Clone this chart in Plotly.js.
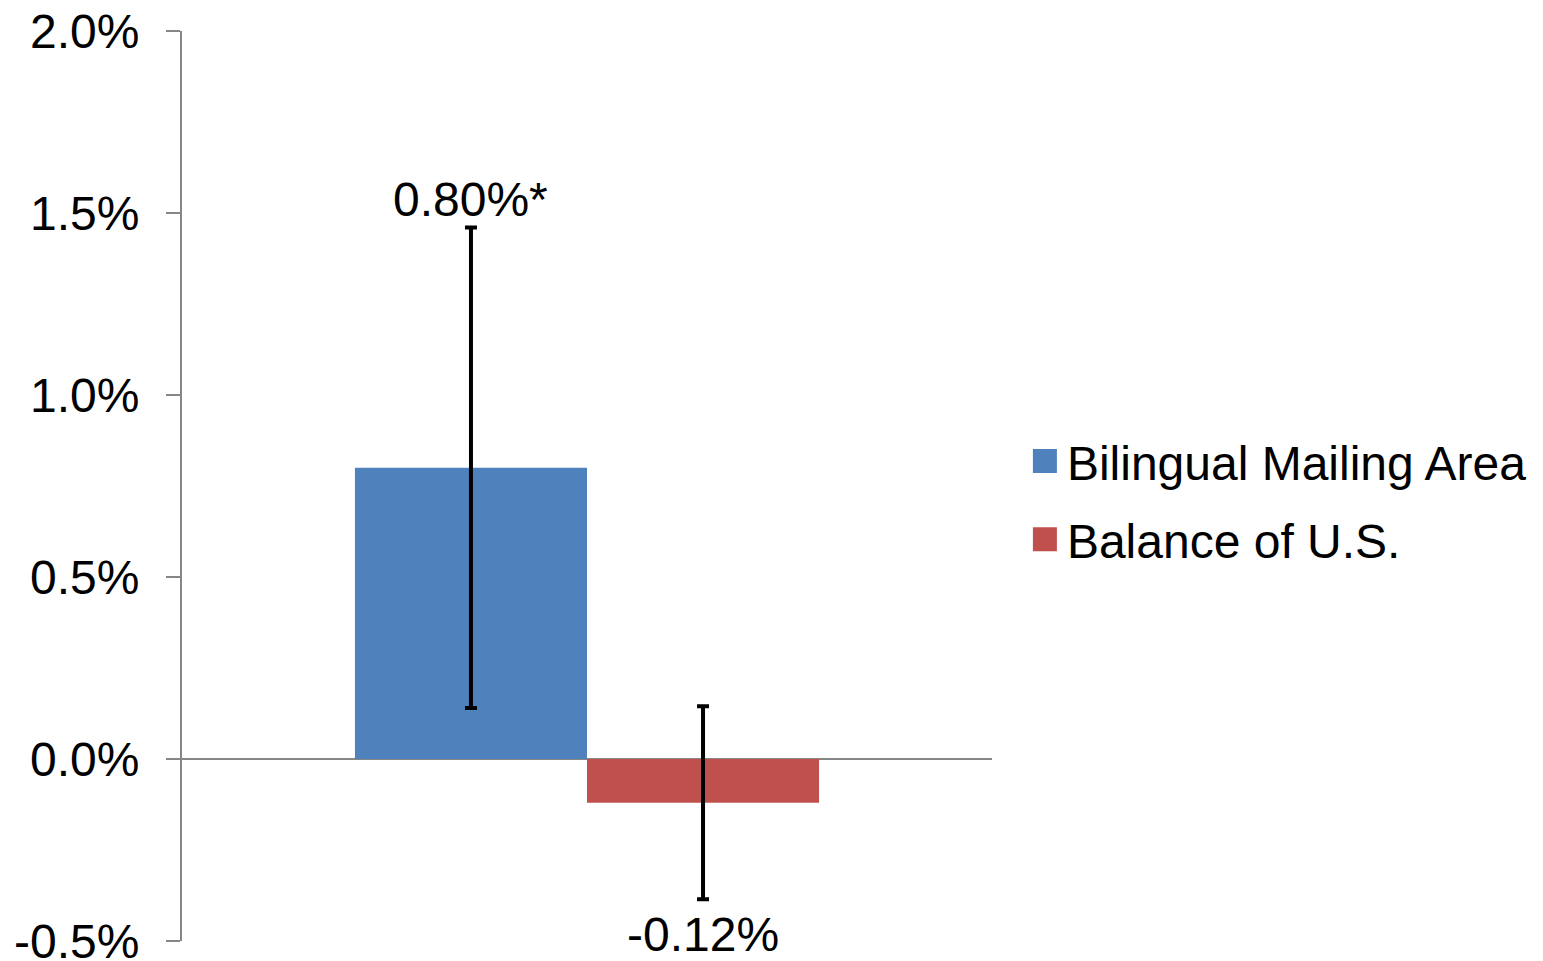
<!DOCTYPE html>
<html>
<head>
<meta charset="utf-8">
<script src="https://cdn.plot.ly/plotly-3.0.1.min.js"></script>
<style>html,body{margin:0;padding:0;background:#fff;}#chart{width:1543px;height:961px;}</style>
</head>
<body>
<div id="chart"></div>
<script>
const category = ["Effect"];
const seriesNames = ["Bilingual Mailing Area", "Balance of U.S."];
const bilingualValues = [0.80];
const balanceValues = [-0.12];
const bilingualErrors = [0.66];
const balanceErrors = [0.265];
const valueLabels = ["0.80%*", "-0.12%"];
const tickValues = [-0.5, 0, 0.5, 1.0, 1.5, 2.0];
const tickLabels = ["-0.5%", "0.0%", "0.5%", "1.0%", "1.5%", "2.0%"];

const colors = ["#4F81BD", "#C0504D"];
const font = {family: "Liberation Sans, Arial, sans-serif", size: 48, color: "#000"};

const traces = [
  {type: "bar", name: seriesNames[0], x: category, y: bilingualValues, legendgroup: "a",
   marker: {color: colors[0], line: {width: 0}},
   error_y: {type: "data", array: bilingualErrors, visible: true, color: "#000", thickness: 4, width: 6},
   hoverinfo: "none"},
  {type: "bar", name: seriesNames[1], x: category, y: balanceValues, legendgroup: "b",
   marker: {color: colors[1], line: {width: 0}},
   error_y: {type: "data", array: balanceErrors, visible: true, color: "#000", thickness: 4, width: 6},
   hoverinfo: "none"}
];

const plotW = 1543 - 182 - 550;
const barHalf = plotW * (1 - 0.427) / 4;

const annotations = [
  {x: category[0], y: bilingualValues[0] + bilingualErrors[0], xref: "x", yref: "y",
   text: valueLabels[0], showarrow: false, yanchor: "bottom", xshift: -barHalf, yshift: 0, font: font},
  {x: category[0], y: balanceValues[0] - balanceErrors[0], xref: "x", yref: "y",
   text: valueLabels[1], showarrow: false, yanchor: "top", xshift: barHalf, yshift: -7, font: font}
];

const layout = {
  width: 1543, height: 961,
  margin: {l: 182, r: 550, t: 31, b: 20, pad: 0},
  paper_bgcolor: "#fff", plot_bgcolor: "#fff",
  font: font,
  barmode: "group", bargap: 0.427, bargroupgap: 0,
  showlegend: true,
  legend: {x: 1.0418, xanchor: "left", y: 0.4844, yanchor: "middle", font: font,
           bgcolor: "rgba(0,0,0,0)", traceorder: "grouped", tracegroupgap: 13},
  xaxis: {type: "category", range: [-0.5, 0.5], showticklabels: false, ticks: "",
          showgrid: false, zeroline: false, showline: false, fixedrange: true},
  yaxis: {range: [-0.5, 2.0], tickvals: tickValues, ticktext: tickLabels,
          showgrid: false, zeroline: true, zerolinecolor: "#868686", zerolinewidth: 2,
          showline: true, linecolor: "#868686", linewidth: 2,
          ticks: "outside", ticklen: 14, tickwidth: 2, tickcolor: "#868686",
          tickfont: font, ticklabelstandoff: 17, ticklabeloverflow: "allow", fixedrange: true},
  annotations: annotations
};

const gd = document.getElementById("chart");
function enlargeSwatches() {
  gd.querySelectorAll(".legend .legendpoints path").forEach(function (p) {
    p.setAttribute("d", "M10,12H-14V-12H10Z");
  });
}
Plotly.newPlot(gd, traces, layout, {displayModeBar: false, staticPlot: true}).then(function () {
  enlargeSwatches();
  gd.on("plotly_afterplot", enlargeSwatches);
});
</script>
</body>
</html>
